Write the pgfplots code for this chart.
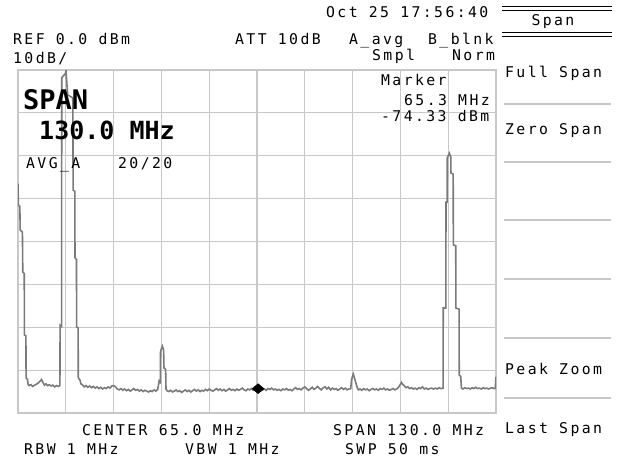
\documentclass[border=0pt]{standalone}
\usepackage{pgfplots}
\pgfplotsset{compat=1.18}
\usepackage{fontspec}
\setmainfont{DejaVu Sans}
\newfontfamily\scr[LetterSpace=16]{DejaVu Sans Mono}
\newfontfamily\bigfont{DejaVu Sans Mono}
\definecolor{gridgray}{RGB}{200,200,200}
\definecolor{tracegray}{RGB}{122,122,122}
\newcommand{\st}{\scr\fontsize{14.8}{17}\selectfont}

% Spectrum sweep: frequency in MHz, level in dBm
\pgfplotstableread{
f a
0.0 -26.5
0.1 -31.5
0.5 -31.8
0.6 -37.3
1.2 -37.8
1.3 -47.1
1.7 -47.5
1.75 -61.8
2.15 -62.0
2.2 -71.8
2.6 -72.2
2.7 -73.2
3.0 -73.6
3.5 -73.4
4.0 -73.8
4.5 -73.5
5.0 -73.3
5.5 -73.0
6.0 -72.6
6.4 -72.2
6.8 -72.9
7.2 -73.5
7.6 -73.2
8.0 -73.6
8.5 -73.4
9.0 -73.7
9.5 -73.5
10.0 -73.9
10.5 -73.6
11.0 -73.8
11.4 -73.6
11.45 -59.5
11.85 -59.8
11.9 -1.8
12.9 -0.8
13.05 -0.2
13.5 -5.8
14.9 -6.5
15.0 -28.0
15.45 -28.3
15.5 -43.8
15.9 -44.2
15.95 -59.9
16.35 -60.2
16.4 -71.8
16.9 -72.4
17.1 -73.2
17.5 -73.4
18.0 -73.9
18.5 -73.6
19.0 -74.0
19.5 -73.7
20.0 -74.1
20.5 -73.8
21.0 -74.2
21.5 -73.9
22.0 -74.3
22.5 -74.0
23.0 -74.4
23.5 -74.1
24.0 -74.3
24.5 -73.9
25.0 -74.2
25.5 -73.7
26.0 -73.6
26.5 -73.9
27.0 -74.4
27.5 -74.6
28.0 -74.3
28.5 -74.7
29.0 -74.4
29.5 -74.8
30.0 -74.5
30.5 -74.9
31.0 -74.6
31.5 -74.3
32.0 -74.7
32.5 -74.5
33.0 -74.9
33.5 -74.6
34.0 -75.0
34.5 -74.7
35.0 -74.9
35.5 -75.1
36.0 -74.8
36.5 -75.0
37.0 -74.6
37.5 -74.9
38.0 -74.5
38.4 -72.5
38.7 -72.8
38.75 -65.8
39.0 -65.0
39.25 -64.4
39.6 -65.3
39.7 -69.5
40.15 -69.8
40.25 -74.4
40.5 -74.8
41.0 -75.0
41.5 -74.7
42.0 -75.1
42.5 -74.9
43.0 -74.6
43.5 -75.0
44.0 -74.8
44.5 -75.2
45.0 -74.9
45.5 -74.6
46.0 -75.0
46.5 -74.7
47.0 -75.1
47.5 -74.8
48.0 -74.5
48.5 -74.9
49.0 -74.6
49.5 -75.0
50.0 -74.7
50.5 -74.9
51.0 -74.5
51.5 -74.8
52.0 -74.4
52.5 -74.7
53.0 -74.9
53.5 -74.6
54.0 -74.3
54.5 -74.7
55.0 -74.4
55.5 -74.8
56.0 -74.5
56.5 -74.9
57.0 -74.6
57.5 -74.3
58.0 -74.7
58.5 -74.5
59.0 -74.8
59.5 -74.4
60.0 -74.7
60.5 -74.5
61.0 -74.2
61.5 -74.6
62.0 -74.8
62.5 -74.4
63.0 -74.6
63.5 -74.3
64.0 -74.7
64.5 -74.5
65.0 -74.4
65.3 -74.33
65.5 -74.5
66.0 -74.2
66.5 -74.6
67.0 -74.4
67.5 -74.7
68.0 -74.3
68.5 -74.5
69.0 -74.2
69.5 -74.6
70.0 -74.4
70.5 -74.7
71.0 -74.5
71.5 -74.8
72.0 -74.4
72.5 -74.6
73.0 -74.3
73.5 -74.7
74.0 -74.5
74.5 -74.8
75.0 -74.4
75.5 -74.1
76.0 -74.5
76.5 -74.3
77.0 -74.6
77.5 -74.2
78.0 -73.9
78.5 -74.3
79.0 -74.7
79.5 -74.4
80.0 -74.0
80.5 -74.5
81.0 -74.2
81.5 -73.8
82.0 -74.3
82.5 -74.6
83.0 -74.1
83.5 -73.9
84.0 -74.4
84.5 -74.0
85.0 -74.6
85.5 -74.2
86.0 -74.5
86.5 -74.3
87.0 -74.7
87.5 -74.4
88.0 -74.1
88.5 -74.5
89.0 -74.2
89.5 -74.6
90.0 -74.4
90.5 -74.3
90.7 -72.3
91.0 -71.4
91.2 -70.9
91.5 -71.8
91.9 -73.0
92.3 -74.2
92.6 -74.6
93.0 -74.4
93.5 -74.7
94.0 -74.3
94.5 -74.6
95.0 -74.4
95.5 -74.8
96.0 -74.5
96.5 -74.3
97.0 -74.6
97.5 -74.4
98.0 -74.7
98.5 -74.3
99.0 -74.5
99.5 -74.2
100.0 -74.6
100.5 -74.4
101.0 -74.7
101.5 -74.5
102.0 -74.3
102.5 -74.6
103.0 -74.4
103.5 -74.0
104.0 -73.3
104.3 -72.9
104.7 -73.4
105.0 -73.6
105.5 -74.1
106.0 -73.9
106.5 -74.3
107.0 -74.1
107.5 -74.4
108.0 -74.2
108.5 -74.5
109.0 -74.1
109.5 -74.3
110.0 -73.9
110.5 -74.4
111.0 -74.2
111.5 -74.5
112.0 -74.3
112.5 -74.2
113.0 -74.4
113.5 -74.2
114.0 -74.4
114.5 -74.1
115.0 -74.3
115.6 -74.2
115.65 -55.5
116.35 -55.5
116.4 -30.8
116.7 -30.8
116.75 -20.5
117.3 -19.4
117.7 -20.3
117.75 -24.0
118.35 -24.3
118.4 -40.8
119.05 -41.0
119.1 -55.5
119.95 -55.8
120.0 -71.1
120.4 -71.5
120.6 -74.2
121.0 -74.4
121.5 -74.1
122.0 -74.3
122.5 -74.2
123.0 -74.4
123.5 -74.1
124.0 -74.3
124.5 -74.0
125.0 -74.3
125.5 -74.2
126.0 -74.4
126.5 -74.1
127.0 -74.3
127.5 -74.2
128.0 -74.4
128.5 -74.2
129.0 -74.1
129.5 -74.3
129.8 -74.2
130.0 -71.6
}\sweep

\begin{document}
\begin{tikzpicture}
\path[use as bounding box] (0pt,0pt) rectangle (617pt,463pt);

\begin{axis}[
  at={(18pt,50pt)}, anchor=south west,
  scale only axis, width=478pt, height=343pt,
  xmin=0, xmax=130, ymin=-80, ymax=0,
  xtick={0,13,26,39,52,65,78,91,104,117,130},
  ytick={-80,-70,-60,-50,-40,-30,-20,-10,0},
  xticklabels={}, yticklabels={},
  major tick length=0pt,
  grid=major,
  grid style={line width=1.2pt, color=gridgray},
  axis line style={line width=1.2pt, color=gridgray},
]
\addplot[tracegray, line width=1.6pt, no markers] table[x=f, y=a] {\sweep};
\addplot[only marks, mark=diamond*, mark size=5pt, mark options={xscale=1.6, fill=black, draw=black}] coordinates {(65.3,-74.33)};
\end{axis}

% header lines
\node[anchor=base west, inner sep=0] at (326pt,445pt) {\st Oct 25 17:56:40};
\node[anchor=base west, inner sep=0] at (13pt,418pt) {\st REF 0.0 dBm};
\node[anchor=base west, inner sep=0] at (235pt,418pt) {\st ATT 10dB};
\node[anchor=base west, inner sep=0] at (349pt,418pt) {\st A\_avg};
\node[anchor=base west, inner sep=0] at (428pt,418pt) {\st B\_blnk};
\node[anchor=base west, inner sep=0] at (13pt,399pt) {\st 10dB/};
\node[anchor=base west, inner sep=0] at (372pt,402pt) {\st Smpl};
\node[anchor=base west, inner sep=0] at (452pt,402pt) {\st Norm};

% marker readout
\node[anchor=base west, inner sep=0] at (381pt,377pt) {\st Marker};
\node[anchor=base west, inner sep=0] at (404pt,357pt) {\st 65.3 MHz};
\node[anchor=base west, inner sep=0] at (381pt,341pt) {\st -74.33 dBm};

% span annotation
\node[anchor=base west, inner sep=0] at (23pt,353pt) {\bigfont\bfseries\fontsize{27}{30}\selectfont SPAN};
\node[anchor=base west, inner sep=0] at (39pt,323pt) {\bigfont\bfseries\fontsize{25}{28}\selectfont 130.0 MHz};
\node[anchor=base west, inner sep=0] at (26pt,294pt) {\st AVG\_A};
\node[anchor=base west, inner sep=0] at (118pt,294pt) {\st 20/20};

% footer
\node[anchor=base west, inner sep=0] at (82pt,28pt) {\st CENTER 65.0 MHz};
\node[anchor=base west, inner sep=0] at (333pt,28pt) {\st SPAN 130.0 MHz};
\node[anchor=base west, inner sep=0] at (24pt,9pt) {\st RBW 1 MHz};
\node[anchor=base west, inner sep=0] at (185pt,9pt) {\st VBW 1 MHz};
\node[anchor=base west, inner sep=0] at (345pt,9pt) {\st SWP 50 ms};

% soft-key menu
\draw[line width=1pt] (502pt,456pt) -- (612pt,456pt);
\draw[line width=1pt] (502pt,452pt) -- (612pt,452pt);
\draw[line width=1pt] (502pt,430pt) -- (612pt,430pt);
\draw[line width=1pt] (502pt,426pt) -- (612pt,426pt);
\node[anchor=base, inner sep=0] at (553pt,437pt) {\st Span};
\foreach \yy in {359,301,243,184,125,65}
  \draw[gridgray, line width=1.2pt] (504pt,\yy pt) -- (611pt,\yy pt);
\node[anchor=base west, inner sep=0] at (505pt,385pt) {\st Full Span};
\node[anchor=base west, inner sep=0] at (505pt,328pt) {\st Zero Span};
\node[anchor=base west, inner sep=0] at (505pt,89pt) {\st Peak Zoom};
\node[anchor=base west, inner sep=0] at (505pt,30pt) {\st Last Span};
\end{tikzpicture}
\end{document}
